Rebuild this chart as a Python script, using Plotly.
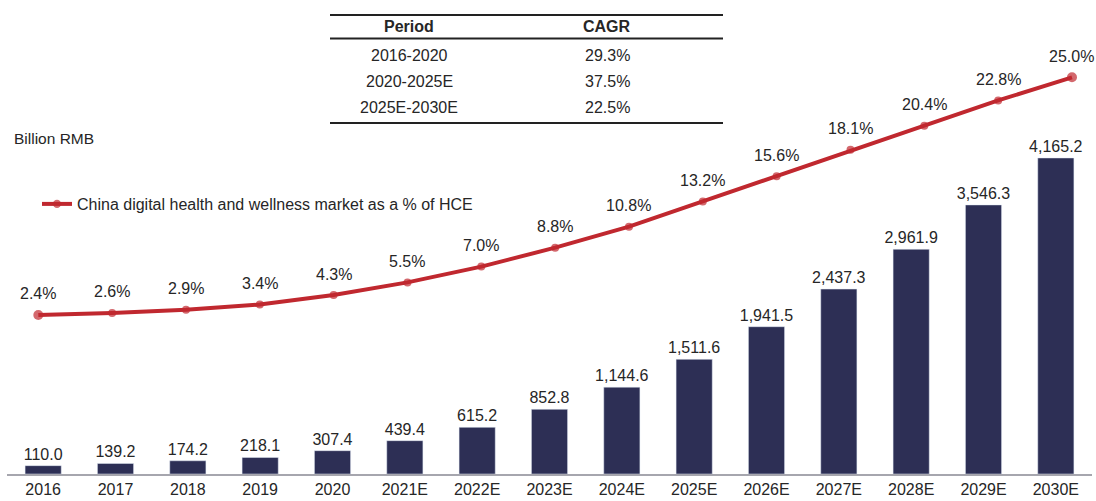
import plotly.graph_objects as go

years = ["2016", "2017", "2018", "2019", "2020", "2021E", "2022E", "2023E", "2024E",
         "2025E", "2026E", "2027E", "2028E", "2029E", "2030E"]
market = [110.0, 139.2, 174.2, 218.1, 307.4, 439.4, 615.2, 852.8, 1144.6,
          1511.6, 1941.5, 2437.3, 2961.9, 3546.3, 4165.2]
share_pct = [2.4, 2.6, 2.9, 3.4, 4.3, 5.5, 7.0, 8.8, 10.8, 13.2, 15.6, 18.1, 20.4, 22.8, 25.0]

table_header = ["Period", "CAGR"]
table_periods = ["2016-2020", "2020-2025E", "2025E-2030E"]
table_cagr = ["29.3%", "37.5%", "22.5%"]

FONT = "Liberation Sans, Arial, sans-serif"
TXT = "#262626"
BAR = "#2d2f55"
RED = "#c0282f"
FS = 16

W, H = 1096, 501
ML, MR, MT, MB = 7, 4, 0, 27
PW = W - ML - MR
PH = H - MT - MB

def px(x):
    return (x - ML) / PW

def py(y):
    return 1 - (y - MT) / PH

idx = list(range(len(years)))
msize = [10 if i in (0, len(years) - 1) else 8 for i in idx]

fig = go.Figure()
fig.add_trace(go.Bar(
    x=years, y=market, marker_color=BAR, width=0.5,
    text=[f"{v:,.1f}" for v in market], textposition="outside",
    constraintext="none",
    textfont=dict(size=FS, color=TXT, family=FONT), cliponaxis=False,
    showlegend=False, hoverinfo="skip",
))
fig.add_trace(go.Scatter(
    x=idx, y=share_pct, xaxis="x2", yaxis="y2", mode="lines+markers",
    line=dict(color=RED, width=4),
    marker=dict(color=RED, size=msize, line=dict(width=0, color=RED)),
    cliponaxis=False, hoverinfo="skip",
    name="China digital health and wellness market as a % of HCE",
))

shapes = []
annotations = []
for i, v in zip(idx, share_pct):
    annotations.append(dict(x=i, y=v, xref="x2", yref="y2", yshift=21,
                            text=f"{v:.1f}%", showarrow=False,
                            xanchor="center", yanchor="middle",
                            font=dict(size=FS, color=TXT, family=FONT)))
# table lines
for y, w in [(15, 2.2), (38.5, 1.8), (123, 2.2)]:
    shapes.append(dict(type="line", xref="paper", yref="paper",
                       x0=px(330), x1=px(723), y0=py(y), y1=py(y),
                       line=dict(color="#222222", width=w)))
col_x = [409, 607]
for cx, h in zip(col_x, table_header):
    annotations.append(dict(xref="paper", yref="paper", x=px(cx), y=py(27),
                            text=f"<b>{h}</b>", showarrow=False,
                            xanchor="center", yanchor="middle",
                            font=dict(size=FS, color=TXT, family=FONT)))
row_y = [55, 81, 107]
for ry, p, c in zip(row_y, table_periods, table_cagr):
    for cx, t in zip(col_x, [p, c]):
        annotations.append(dict(xref="paper", yref="paper", x=px(cx), y=py(ry),
                                text=t, showarrow=False,
                                xanchor="center", yanchor="middle",
                                font=dict(size=FS, color=TXT, family=FONT)))
annotations.append(dict(xref="paper", yref="paper", x=px(12), y=py(138),
                        xanchor="left", yanchor="middle", text="Billion RMB",
                        showarrow=False,
                        font=dict(size=15.5, color=TXT, family=FONT)))

fig.update_layout(
    width=W, height=H,
    margin=dict(l=ML, r=MR, t=MT, b=MB),
    paper_bgcolor="white", plot_bgcolor="white",
    font=dict(family=FONT, color=TXT, size=FS),
    bargap=0.5,
    xaxis=dict(type="category", range=[-0.5, 14.5], showline=True,
               linecolor="#a6a6ae", linewidth=1.5, ticks="", showgrid=False,
               tickfont=dict(size=FS, color=TXT, family=FONT)),
    xaxis2=dict(overlaying="x", range=[-0.424, 14.271], visible=False, showgrid=False),
    yaxis=dict(range=[0, 6247], visible=False, showgrid=False),
    yaxis2=dict(range=[-12.72, 32.35], overlaying="y", visible=False, showgrid=False),
    legend=dict(x=px(37), y=py(204), xanchor="left", yanchor="middle",
                bgcolor="rgba(0,0,0,0)", font=dict(size=FS, color=TXT, family=FONT)),
    showlegend=True,
    shapes=shapes, annotations=annotations,
)
fig.write_html("out.html", config={"displayModeBar": False},
               post_script="document.body.style.margin='0';document.body.style.padding='0';window.dispatchEvent(new Event('resize'));")
